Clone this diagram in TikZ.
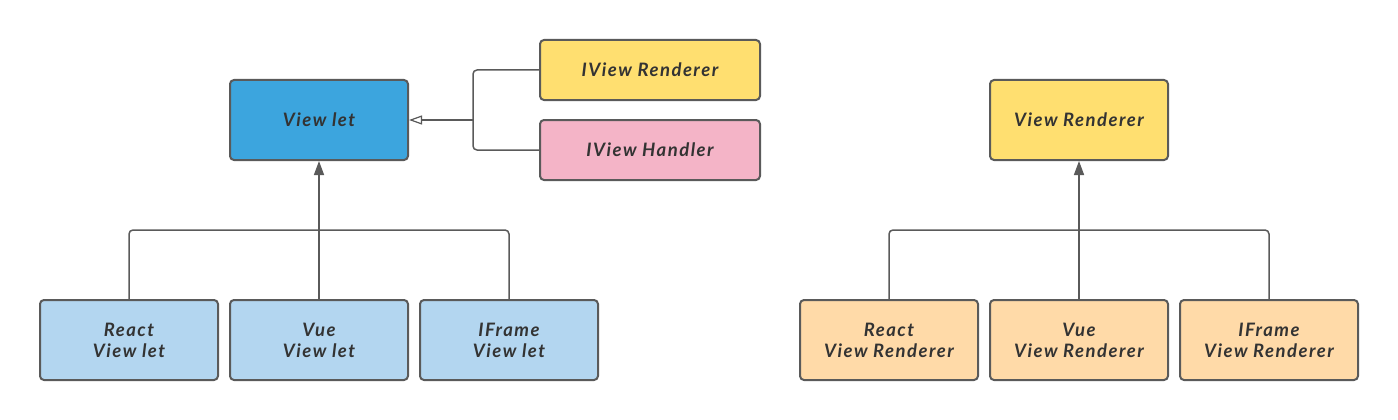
\documentclass[tikz,border=0pt]{standalone}
\usepackage{fontspec}
\setmainfont{Lato}[LetterSpace=8]
\usetikzlibrary{arrows.meta}
\definecolor{edge}{HTML}{5A5A5A}
\definecolor{txt}{HTML}{333333}
\definecolor{blueA}{HTML}{3CA5DE}
\definecolor{blueB}{HTML}{B3D6F0}
\definecolor{yel}{HTML}{FFDF70}
\definecolor{pink}{HTML}{F4B4C7}
\definecolor{peach}{HTML}{FFDAA8}
\tikzset{
  box/.style={draw=edge, line width=2pt, rounded corners=4pt, minimum width=178pt, minimum height=80pt,
    inner sep=0pt, align=center, font=\fontsize{18.5}{21}\selectfont\bfseries\itshape, text=txt},
  ibox/.style={box, minimum width=220pt, minimum height=60pt},
  conn/.style={draw=edge, line width=1.5pt, rounded corners=4pt},
  inh/.style={conn, -{Triangle[width=10pt,length=14pt]}},
  impl/.style={conn, -{Triangle[open,width=9pt,length=13pt,line width=1.2pt]}},
}
\begin{document}
\begin{tikzpicture}[x=1pt,y=-1pt]
\useasboundingbox (0,0) rectangle (1398,420);
% left
\node[box, fill=blueA] (vl) at (319,120) {View let};
\node[ibox, fill=yel] (ivr) at (650,70) {IView Renderer};
\node[ibox, fill=pink] (ivh) at (650,150) {IView Handler};
\node[box, fill=blueB] (rvl) at (129,340) {React\\View let};
\node[box, fill=blueB] (vvl) at (319,340) {Vue\\View let};
\node[box, fill=blueB] (fvl) at (509,340) {IFrame\\View let};
% right
\node[box, fill=yel] (vr) at (1079,120) {View Renderer};
\node[box, fill=peach] (rvr) at (889,340) {React\\View Renderer};
\node[box, fill=peach] (vvr) at (1079,340) {Vue\\View Renderer};
\node[box, fill=peach] (fvr) at (1269,340) {IFrame\\View Renderer};
% connectors left
\coordinate (jl) at (319,230);
\coordinate (ji) at (473,120);
\draw[conn] (rvl.north) |- (jl);
\draw[conn] (fvl.north) |- (jl);
\draw[inh] (vvl.north) -- (vl.south);
\draw[conn] (ivr.west) -| (ji);
\draw[conn] (ivh.west) -| (ji);
\draw[impl] (ji) -- (vl.east);
% connectors right
\coordinate (jr) at (1079,230);
\draw[conn] (rvr.north) |- (jr);
\draw[conn] (fvr.north) |- (jr);
\draw[inh] (vvr.north) -- (vr.south);
\end{tikzpicture}
\end{document}
